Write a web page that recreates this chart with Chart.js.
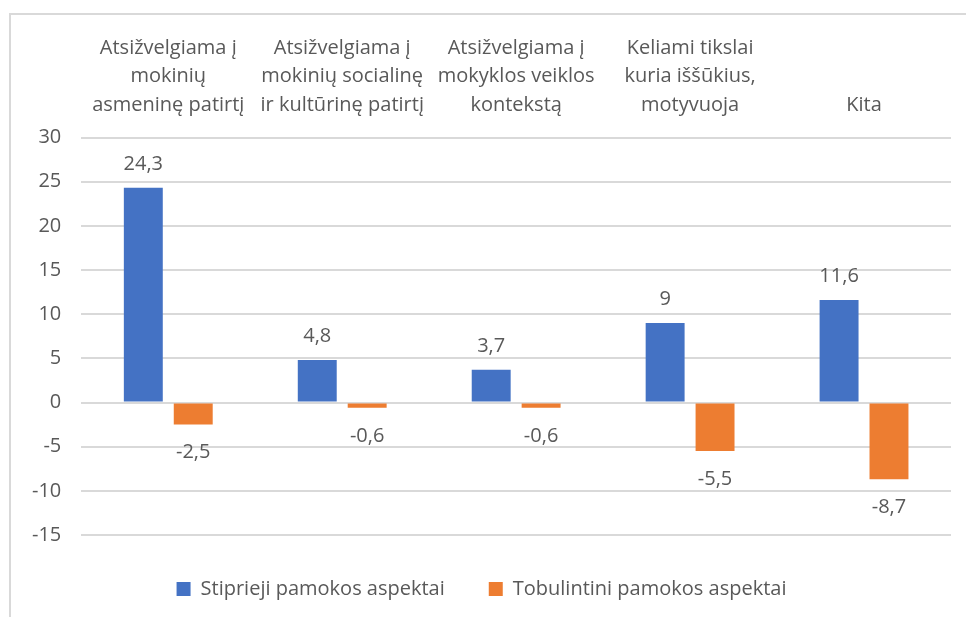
<!DOCTYPE html>
<html lang="lt">
<head>
<meta charset="UTF-8">
<title>Pamokos aspektai</title>
<script src="https://cdn.jsdelivr.net/npm/chart.js"></script>
<style>
body{margin:0;background:#fff;overflow:hidden;}
.frame{position:absolute;left:9px;top:13px;width:1000px;height:700px;border:2px solid #d9d9d9;}
.wrap{position:absolute;left:0;top:0;width:966px;height:617px;}
</style>
</head>
<body>
<div class="frame"></div>
<div class="wrap"><canvas id="chart"></canvas></div>
<script>
// categories (multi-line, as in the original)
const categories = [
  ["Atsižvelgiama į", "mokinių", "asmeninę patirtį"],
  ["Atsižvelgiama į", "mokinių socialinę", "ir kultūrinę patirtį"],
  ["Atsižvelgiama į", "mokyklos veiklos", "kontekstą"],
  ["Keliami tikslai", "kuria iššūkius,", "motyvuoja"],
  ["Kita"]
];
const strongValues = [24.3, 4.8, 3.7, 9, 11.6];
const improveValues = [-2.5, -0.6, -0.6, -5.5, -8.7];
const seriesNames = ["Stiprieji pamokos aspektai", "Tobulintini pamokos aspektai"];
const yTicks = [-15, -10, -5, 0, 5, 10, 15, 20, 25, 30];

const FONT = "'Open Sans', sans-serif";
const SIZE = 20;
const TXT = "#595959";

// value labels above/below each bar, comma decimal
const valueLabels = {
  id: "valueLabels",
  afterDatasetsDraw(chart) {
    const ctx = chart.ctx;
    ctx.save();
    ctx.font = SIZE + "px " + FONT;
    ctx.fillStyle = TXT;
    ctx.textAlign = "center";
    ctx.textBaseline = "middle";
    chart.data.datasets.forEach((ds, i) => {
      chart.getDatasetMeta(i).data.forEach((bar, j) => {
        const v = ds.data[j];
        const txt = String(v).replace(".", ",");
        const y = v >= 0 ? bar.y - 24 : bar.y + 28;
        ctx.fillText(txt, bar.x, y);
      });
    });
    ctx.restore();
  }
};

new Chart(document.getElementById("chart"), {
  type: "bar",
  data: {
    labels: categories,
    datasets: [
      {label: seriesNames[0], data: strongValues, backgroundColor: "#4472C4",
       categoryPercentage: 0.574, barPercentage: 0.78},
      {label: seriesNames[1], data: improveValues, backgroundColor: "#ED7D31",
       categoryPercentage: 0.574, barPercentage: 0.78}
    ]
  },
  options: {
    responsive: true,
    maintainAspectRatio: false,
    animation: false,
    layout: {padding: {left: 12, right: 15, top: 16, bottom: 8}},
    scales: {
      x: {
        position: "top",
        grid: {display: false, drawTicks: false},
        border: {display: false},
        ticks: {color: TXT, font: {family: FONT, size: SIZE, lineHeight: 1.425},
                maxRotation: 0, autoSkip: false, padding: 18}
      },
      y: {
        min: yTicks[0], max: yTicks[yTicks.length - 1],
        afterBuildTicks: axis => { axis.ticks = yTicks.map(v => ({value: v})); },
        grid: {color: "#d9d9d9", lineWidth: 2, drawTicks: false},
        border: {display: false},
        ticks: {color: TXT, font: {family: FONT, size: SIZE}, padding: 20}
      }
    },
    plugins: {
      legend: {
        position: "bottom",
        labels: {color: TXT, font: {family: FONT, size: SIZE}, boxWidth: 14, boxHeight: 14, padding: 44}
      },
      tooltip: {enabled: false}
    }
  },
  plugins: [valueLabels]
});
</script>
</body>
</html>
